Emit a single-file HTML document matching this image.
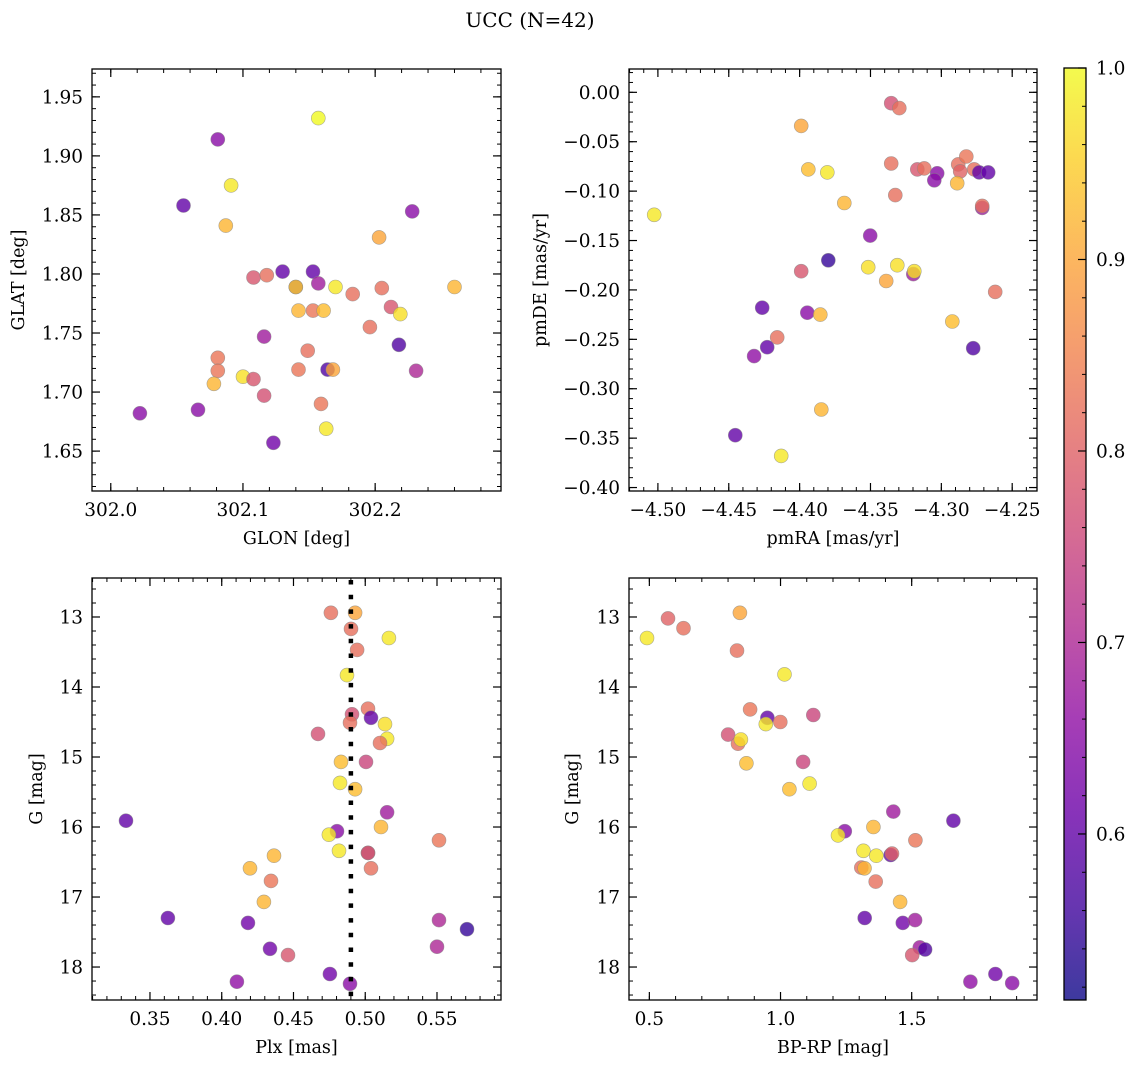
<!DOCTYPE html>
<html><head><meta charset="utf-8"><style>
html,body{margin:0;padding:0;background:#fff;}
svg{display:block;font-family:"DejaVu Serif","Liberation Serif",serif;}
</style></head><body>
<svg id="fig" width="1136" height="1068" viewBox="0 0 1136 1068" xmlns="http://www.w3.org/2000/svg">
<defs>
<linearGradient id="plasma" x1="0" y1="1" x2="0" y2="0">
<stop offset="0" stop-color="#0d0887"/><stop offset="0.1" stop-color="#41049d"/><stop offset="0.2" stop-color="#6a00a8"/><stop offset="0.3" stop-color="#8f0da4"/><stop offset="0.4" stop-color="#b12a90"/><stop offset="0.5" stop-color="#cc4778"/><stop offset="0.6" stop-color="#e16462"/><stop offset="0.7" stop-color="#f2844b"/><stop offset="0.8" stop-color="#fca636"/><stop offset="0.9" stop-color="#fcce25"/><stop offset="1" stop-color="#f0f921"/>
</linearGradient>
</defs>
<text x="530" y="27" font-size="20" text-anchor="middle">UCC (N=42)</text>
</svg>
<script>
// ---- data ----
const glon=[302.157,302.081,302.091,302.055,302.087,302.228,302.203,302.108,302.118,302.130,302.153,302.140,302.140,302.157,302.170,302.183,302.205,302.260,302.142,302.153,302.161,302.212,302.219,302.196,302.116,302.218,302.149,302.081,302.081,302.142,302.164,302.168,302.231,302.100,302.108,302.078,302.116,302.159,302.022,302.066,302.163,302.123];
const glat=[1.932,1.914,1.875,1.858,1.841,1.853,1.831,1.797,1.799,1.802,1.802,1.789,1.789,1.792,1.789,1.783,1.788,1.789,1.769,1.769,1.769,1.772,1.766,1.755,1.747,1.740,1.735,1.729,1.718,1.719,1.719,1.719,1.718,1.713,1.711,1.707,1.697,1.690,1.682,1.685,1.669,1.657];
const probTL=[1.0,0.65,0.98,0.6,0.92,0.65,0.9,0.78,0.82,0.6,0.6,0.6,0.95,0.68,0.98,0.82,0.82,0.92,0.92,0.83,0.93,0.78,0.97,0.82,0.68,0.58,0.82,0.83,0.83,0.83,0.58,0.9,0.7,0.97,0.78,0.92,0.77,0.83,0.65,0.65,0.98,0.62];

const pmra=[-4.5026,-4.3989,-4.3354,-4.3297,-4.3939,-4.3805,-4.3685,-4.3354,-4.3325,-4.317,-4.3121,-4.3029,-4.305,-4.2881,-4.2867,-4.2824,-4.2768,-4.2733,-4.2669,-4.2888,-4.2712,-4.2712,-4.3502,-4.3798,-4.3989,-4.3516,-4.3311,-4.3198,-4.3191,-4.3389,-4.262,-4.4264,-4.3946,-4.3854,-4.2923,-4.4158,-4.4229,-4.4321,-4.2775,-4.3847,-4.4454,-4.413];
const pmde=[-0.124,-0.034,-0.011,-0.016,-0.078,-0.081,-0.112,-0.072,-0.104,-0.078,-0.077,-0.082,-0.089,-0.073,-0.080,-0.065,-0.078,-0.081,-0.081,-0.092,-0.117,-0.115,-0.145,-0.170,-0.181,-0.177,-0.175,-0.184,-0.181,-0.191,-0.202,-0.218,-0.223,-0.225,-0.232,-0.248,-0.258,-0.267,-0.259,-0.321,-0.347,-0.368];
const probTR=[0.98,0.9,0.77,0.82,0.93,0.98,0.92,0.82,0.82,0.78,0.82,0.65,0.65,0.82,0.8,0.83,0.82,0.6,0.6,0.92,0.68,0.82,0.65,0.55,0.78,0.97,0.97,0.68,0.97,0.9,0.82,0.6,0.65,0.92,0.93,0.82,0.6,0.66,0.58,0.92,0.6,0.98];

const plx=[0.4761,0.4929,0.4901,0.5165,0.4943,0.4873,0.5019,0.4908,0.504,0.4894,0.5138,0.4671,0.5152,0.5103,0.4831,0.5005,0.4824,0.4929,0.3333,0.5152,0.4803,0.4747,0.511,0.5514,0.4817,0.5019,0.5019,0.504,0.4364,0.4197,0.4343,0.4294,0.3625,0.4183,0.5514,0.5709,0.4336,0.4462,0.55,0.4754,0.4106,0.4894];
const gmagBL=[12.94,12.94,13.17,13.30,13.47,13.83,14.31,14.39,14.44,14.51,14.53,14.67,14.74,14.80,15.07,15.07,15.37,15.46,15.91,15.79,16.06,16.11,16.00,16.19,16.34,16.37,16.37,16.59,16.41,16.59,16.77,17.07,17.30,17.37,17.33,17.46,17.74,17.83,17.71,18.10,18.21,18.24];
const probBL=[0.82,0.9,0.82,0.98,0.82,0.98,0.82,0.77,0.6,0.82,0.97,0.77,0.98,0.82,0.93,0.75,0.98,0.93,0.6,0.68,0.65,0.98,0.92,0.83,0.98,0.6,0.8,0.82,0.92,0.92,0.83,0.92,0.6,0.62,0.7,0.55,0.62,0.78,0.7,0.62,0.66,0.65];
const plxLine=[0.49];

const bprp=[0.491,0.571,0.630,0.845,0.834,1.015,0.884,0.950,0.944,0.999,1.125,0.800,0.838,0.849,0.870,1.086,1.111,1.034,1.430,1.659,1.245,1.219,1.354,1.514,1.316,1.365,1.420,1.425,1.308,1.320,1.363,1.456,1.321,1.466,1.513,1.531,1.551,1.502,1.819,1.724,1.883];
const gmagBR=[13.30,13.02,13.16,12.94,13.48,13.82,14.32,14.44,14.53,14.50,14.40,14.68,14.81,14.75,15.09,15.07,15.38,15.46,15.78,15.91,16.06,16.12,16.00,16.19,16.34,16.41,16.40,16.38,16.58,16.59,16.78,17.07,17.30,17.37,17.33,17.72,17.75,17.83,18.10,18.21,18.23];
const probBR=[0.98,0.8,0.82,0.9,0.82,0.98,0.83,0.6,0.98,0.82,0.75,0.77,0.82,0.97,0.93,0.75,0.98,0.93,0.68,0.6,0.65,0.98,0.92,0.83,0.98,0.98,0.6,0.8,0.82,0.92,0.82,0.92,0.6,0.62,0.68,0.68,0.58,0.78,0.62,0.66,0.65];

const tlXTicks=["302.0","302.1","302.2"];
const tlYTicks=["1.65","1.70","1.75","1.80","1.85","1.90","1.95"];
const trXTicks=["−4.50","−4.45","−4.40","−4.35","−4.30","−4.25"];
const trYTicks=["−0.40","−0.35","−0.30","−0.25","−0.20","−0.15","−0.10","−0.05","0.00"];
const blXTicks=["0.35","0.40","0.45","0.50","0.55"];
const gTicks=["13","14","15","16","17","18"];
const brXTicks=["0.5","1.0","1.5"];
const cbTicks=["0.6","0.7","0.8","0.9","1.0"];
const cbMin=0.5133, cbMax=1.0;

// ---- helpers ----
const NS="http://www.w3.org/2000/svg";
const svg=document.getElementById('fig');
const TF=18.5, LF=17.5;
function mk(tag,attrs,parent){const e=document.createElementNS(NS,tag);for(const k in attrs)e.setAttribute(k,attrs[k]);(parent||svg).appendChild(e);return e;}
const stops=[[13,8,135],[65,4,157],[106,0,168],[143,13,164],[177,42,144],[204,71,120],[225,100,98],[242,132,75],[252,166,54],[252,206,37],[240,249,33]];
function plasma(v){let t=(v-cbMin)/(cbMax-cbMin);t=Math.max(0,Math.min(1,t))*10;const i=Math.min(9,Math.floor(t)),f=t-i;const a=stops[i],b=stops[i+1];return 'rgb('+a.map((c,k)=>Math.round(c+(b[k]-c)*f)).join(',')+')';}
function lin(d0,d1,p0,p1){return v=>p0+(v-d0)/(d1-d0)*(p1-p0);}

function panel(name,box,xd,yd,xTicks,xMinor,yTicks,yMinor,xlab,ylab,ylabX,xs,ys,ps){
  const g=mk('g',{});
  
  
  const X=lin(xd[0],xd[1],box[0],box[1]), Y=lin(yd[0],yd[1],box[3],box[2]);
  const gp=mk('g',{},g);
  
  
  for(let i=0;i<xs.length;i++){
    const c=mk('circle',{cx:X(xs[i]).toFixed(1),cy:Y(ys[i]).toFixed(1),r:7,fill:plasma(ps[i]),'fill-opacity':0.8,stroke:'#888','stroke-width':0.6,'stroke-opacity':0.7},gp);
    
    
  }
  const fr=mk('rect',{x:box[0],y:box[2],width:box[1]-box[0],height:box[3]-box[2],fill:'none',stroke:'#000','stroke-width':1.3},g);
  
  
  const lo=Math.min(xd[0],xd[1]),hi=Math.max(xd[0],xd[1]);
  for(let v=Math.ceil(lo/xMinor-1e-6)*xMinor;v<=hi+1e-9;v+=xMinor){const x=X(v);mk('line',{x1:x,x2:x,y1:box[3],y2:box[3]-4,stroke:'#000','stroke-width':1},g);mk('line',{x1:x,x2:x,y1:box[2],y2:box[2]+4,stroke:'#000','stroke-width':1},g);}
  const ylo=Math.min(yd[0],yd[1]),yhi=Math.max(yd[0],yd[1]);
  for(let v=Math.ceil(ylo/yMinor-1e-6)*yMinor;v<=yhi+1e-9;v+=yMinor){const y=Y(v);mk('line',{x1:box[0],x2:box[0]+4,y1:y,y2:y,stroke:'#000','stroke-width':1},g);mk('line',{x1:box[1],x2:box[1]-4,y1:y,y2:y,stroke:'#000','stroke-width':1},g);}
  xTicks.forEach(s=>{const v=parseFloat(s.replace('−','-'));const x=X(v);mk('line',{x1:x,x2:x,y1:box[3],y2:box[3]-8,stroke:'#000','stroke-width':1.2},g);mk('line',{x1:x,x2:x,y1:box[2],y2:box[2]+8,stroke:'#000','stroke-width':1.2},g);
    const t=mk('text',{x:x,y:box[3]+25,'font-size':TF,'text-anchor':'middle'},g);t.textContent=s;
    
    });
  yTicks.forEach(s=>{const v=parseFloat(s.replace('−','-'));const y=Y(v);mk('line',{x1:box[0],x2:box[0]+8,y1:y,y2:y,stroke:'#000','stroke-width':1.2},g);mk('line',{x1:box[1],x2:box[1]-8,y1:y,y2:y,stroke:'#000','stroke-width':1.2},g);
    const t=mk('text',{x:box[0]-9,y:y+6.5,'font-size':TF,'text-anchor':'end'},g);t.textContent=s;
    
    });
  const xl=mk('text',{x:(box[0]+box[1])/2,y:box[3]+53,'font-size':LF,'text-anchor':'middle'},g);xl.textContent=xlab;
  
  
  const cy=(box[2]+box[3])/2;
  const yl=mk('text',{x:cy*0,y:0,'font-size':LF,'text-anchor':'middle',transform:'translate('+ylabX+' '+cy+') rotate(-90)'},g);yl.textContent=ylab;
  
  
  return {X,Y,g};
}

panel('glon-glat-panel',[92,501,69,491],[301.9858,302.2952],[1.6162,1.9736],tlXTicks,0.02,tlYTicks,0.01,'GLON [deg]','GLAT [deg]',24,glon,glat,probTL);
panel('pm-panel',[629,1037,69,491],[-4.5204,-4.2325],[-0.4035,0.0236],trXTicks,0.01,trYTicks,0.01,'pmRA [mas/yr]','pmDE [mas/yr]',546,pmra,pmde,probTR);
const bl=panel('plx-g-panel',[92,501,578,1000],[0.3096,0.5946],[18.471,12.443],blXTicks,0.01,gTicks,0.2,'Plx [mas]','G [mag]',42,plx,gmagBL,probBL);
panel('cmd-panel',[629,1037,578,1000],[0.4224,1.9777],[18.471,12.443],brXTicks,0.1,gTicks,0.2,'BP-RP [mag]','G [mag]',578,bprp,gmagBR,probBR);

plxLine.forEach(v=>{const x=bl.X(v);const l=mk('line',{x1:x,x2:x,y1:580,y2:1000,stroke:'#000','stroke-width':4.5,'stroke-dasharray':'4.5 10.2'},bl.g);
  
  });

const cb=mk('g',{});


const cbTop=68,cbBot=1000,cbL=1064,cbR=1086;
mk('rect',{x:cbL,y:cbTop,width:cbR-cbL,height:cbBot-cbTop,fill:'url(#plasma)',opacity:0.8},cb);
mk('rect',{x:cbL,y:cbTop,width:cbR-cbL,height:cbBot-cbTop,fill:'none',stroke:'#000','stroke-width':1.3},cb);
const CY=lin(cbMin,cbMax,cbBot,cbTop);
for(let v=0.52;v<=1.0001;v+=0.02){const y=CY(v);mk('line',{x1:cbR,x2:cbR-4,y1:y,y2:y,stroke:'#000','stroke-width':1},cb);}
cbTicks.forEach(s=>{const y=CY(parseFloat(s));mk('line',{x1:cbR,x2:cbR-8,y1:y,y2:y,stroke:'#000','stroke-width':1.2},cb);
  const t=mk('text',{x:cbR+10,y:y+6.5,'font-size':TF},cb);t.textContent=s;
  
  });
</script>
</body></html>
